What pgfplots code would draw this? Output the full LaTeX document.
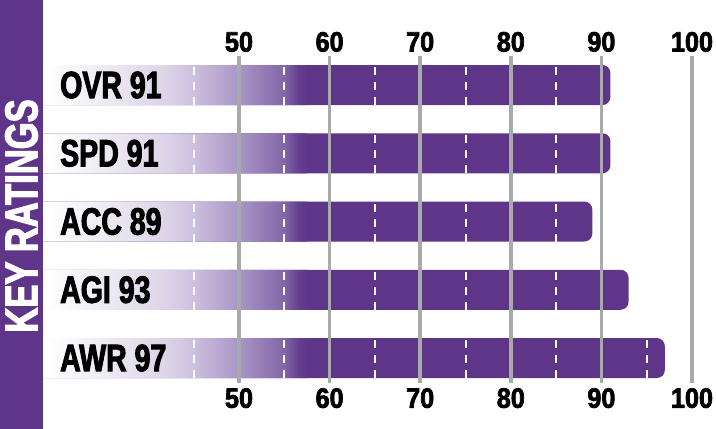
\documentclass[border=0pt]{standalone}
\usepackage{pgfplots}
\pgfplotsset{compat=1.18}
\usepackage{fontspec}
\newfontfamily\cond[UprightFont={* Bold}, FakeStretch=0.75, FakeBold=2.5]{Liberation Sans}
\newfontfamily\tickf[UprightFont={* Bold}, FakeStretch=0.9, FakeBold=2.5]{Liberation Sans}

\definecolor{kpurple}{HTML}{5E3588}
\definecolor{gridgray}{HTML}{A7A9AC}
\definecolor{fadeA}{HTML}{EFEBF4}
\definecolor{fadeB}{HTML}{DCD3E8}
\definecolor{fadeC}{HTML}{CDBFDE}
\definecolor{fadeD}{HTML}{A995C6}
\definecolor{fadeE}{HTML}{8366A8}
\definecolor{fadeF}{HTML}{654090}
% the fade bar runs from xmin (23.62) to 57.5: bp = 25 + 1.4758 (v - 23.62)
\pgfdeclarehorizontalshading{barfade}{100bp}{color(0bp)=(white); color(32.2bp)=(white);
  color(41.8bp)=(fadeA); color(52.1bp)=(fadeB); color(56.55bp)=(fadeC);
  color(63.93bp)=(fadeD); color(71.3bp)=(fadeE); color(73.5bp)=(fadeF);
  color(75bp)=(kpurple); color(100bp)=(kpurple)}

\pgfplotsset{
  keyaxis/.style={
    scale only axis, width=716pt, height=327pt,
    at={(0pt,46pt)}, anchor=south west,
    xmin=23.62, xmax=102.65,
    ymin=-0.425, ymax=4.366, y dir=reverse,
    axis line style={draw=none}, tick style={draw=none},
    xtick={50,60,...,100},
    /pgf/number format/assume math mode=true,
    xticklabel style={font=\tickf\fontsize{28}{30}\selectfont, inner sep=0pt},
  }
}

\begin{document}
\begin{tikzpicture}[x=1pt, y=1pt]
\begin{axis}[keyaxis, xticklabel style={yshift=-5pt}, ytick=\empty]
  % ratings
  \addplot[xbar, bar width=40pt, bar shift=0pt, fill=kpurple, draw=none, rounded corners=8pt]
    coordinates {(91,0) (91,1) (89,2) (93,3) (97,4)};
  % fade at the left end of every bar
  \addplot[xbar, bar width=40pt, bar shift=0pt, draw=none, shading=barfade]
    coordinates {(57.5,0) (57.5,1) (57.5,2) (57.5,3) (57.5,4)};
  % white dashed marks every 10 inside the bars
  \addplot[white, line width=2pt, dash pattern=on 8pt off 7pt, dash phase=13pt,
    unbounded coords=jump, mark=none] coordinates {
    (45,-0.293) (45,0.293) (45,nan) (45,0.707) (45,1.293) (45,nan) (45,1.707) (45,2.293) (45,nan)
    (45,2.707) (45,3.293) (45,nan) (45,3.707) (45,4.293) (45,nan)
    (55,-0.293) (55,0.293) (55,nan) (55,0.707) (55,1.293) (55,nan) (55,1.707) (55,2.293) (55,nan)
    (55,2.707) (55,3.293) (55,nan) (55,3.707) (55,4.293) (55,nan)
    (65,-0.293) (65,0.293) (65,nan) (65,0.707) (65,1.293) (65,nan) (65,1.707) (65,2.293) (65,nan)
    (65,2.707) (65,3.293) (65,nan) (65,3.707) (65,4.293) (65,nan)
    (75,-0.293) (75,0.293) (75,nan) (75,0.707) (75,1.293) (75,nan) (75,1.707) (75,2.293) (75,nan)
    (75,2.707) (75,3.293) (75,nan) (75,3.707) (75,4.293) (75,nan)
    (85,-0.293) (85,0.293) (85,nan) (85,0.707) (85,1.293) (85,nan) (85,1.707) (85,2.293) (85,nan)
    (85,2.707) (85,3.293) (85,nan) (85,3.707) (85,4.293) (85,nan)
    (95,3.707) (95,4.293)
  };
\end{axis}
\begin{axis}[keyaxis, xticklabel pos=top, xticklabel style={yshift=4pt},
    xmajorgrids, grid style={gridgray, line width=3.5pt},
    ytick={0,...,4}, yticklabels={OVR 91, SPD 91, ACC 89, AGI 93, AWR 97},
    yticklabel style={anchor=west, xshift=60pt, inner sep=0pt,
      font=\cond\fontsize{38}{40}\selectfont}]
  \addplot[draw=none, mark=none] coordinates {(50,0) (60,0)};
\end{axis}
\fill[kpurple] (0,0) rectangle (43,429);
\node[rotate=90, text=white, inner sep=0pt, font=\cond\fontsize{46}{48}\selectfont]
  at (21.5,213) {KEY RATINGS};
\pgfresetboundingbox
\path[use as bounding box] (0,0) rectangle (716,429);
\end{tikzpicture}
\end{document}
